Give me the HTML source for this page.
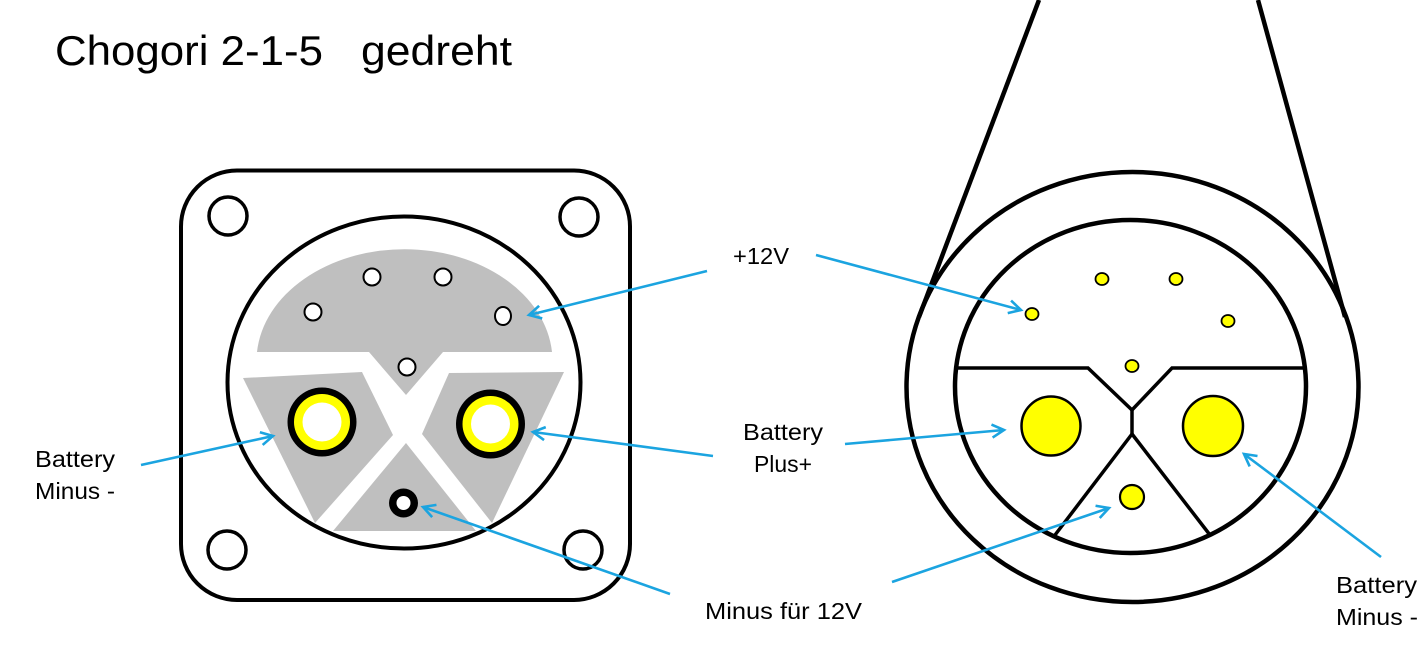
<!DOCTYPE html>
<html><head><meta charset="utf-8"><style>
html,body{margin:0;padding:0;background:#fff;}
svg{display:block;}
text{font-family:"Liberation Sans",Arial,sans-serif;fill:#000;}
</style></head><body>
<svg width="1427" height="646" viewBox="0 0 1427 646" xmlns="http://www.w3.org/2000/svg">
<defs>
<marker id="ah" markerUnits="userSpaceOnUse" markerWidth="20" markerHeight="20" viewBox="0 0 20 20" refX="15" refY="10" orient="auto">
<path d="M3,3.5 L15,10 L3,16.5" fill="none" stroke="#1BA4E0" stroke-width="2.6" stroke-linejoin="miter"/>
</marker>
</defs>
<rect x="0" y="0" width="1427" height="646" fill="#fff"/>

<!-- Title -->
<text x="55" y="65" font-size="42" textLength="268" lengthAdjust="spacingAndGlyphs">Chogori 2-1-5</text>
<text x="361" y="65" font-size="42" textLength="151" lengthAdjust="spacingAndGlyphs">gedreht</text>

<!-- LEFT FIGURE -->
<rect x="181" y="170.5" width="449" height="429.5" rx="56" ry="56" fill="#fff" stroke="#000" stroke-width="4"/>
<circle cx="228" cy="216" r="19" fill="#fff" stroke="#000" stroke-width="3.5"/>
<circle cx="579" cy="217" r="19" fill="#fff" stroke="#000" stroke-width="3.5"/>
<circle cx="227" cy="550" r="19" fill="#fff" stroke="#000" stroke-width="3.5"/>
<circle cx="583" cy="550" r="19" fill="#fff" stroke="#000" stroke-width="3.5"/>
<ellipse cx="404" cy="382.5" rx="176.5" ry="166" fill="#fff" stroke="#000" stroke-width="4"/>

<!-- gray regions -->
<path d="M257,352 A148,112 0 0 1 552,352 L443,352 L406,395 L369,352 Z" fill="#BFBFBF"/>
<polygon points="243,378 362,372 393,435 315,523" fill="#BFBFBF"/>
<polygon points="449,373 564,372 492,523 422,434" fill="#BFBFBF"/>
<polygon points="406,443 476,531 333,531" fill="#BFBFBF"/>

<!-- small holes -->
<circle cx="372" cy="277" r="8.5" fill="#fff" stroke="#000" stroke-width="2"/>
<circle cx="443" cy="277" r="8.5" fill="#fff" stroke="#000" stroke-width="2"/>
<circle cx="313" cy="312" r="8.5" fill="#fff" stroke="#000" stroke-width="2"/>
<ellipse cx="503" cy="316" rx="8" ry="9" fill="#fff" stroke="#000" stroke-width="2"/>
<circle cx="407" cy="367" r="8.5" fill="#fff" stroke="#000" stroke-width="2"/>

<!-- big pins -->
<circle cx="322" cy="422" r="34.5" fill="#000"/>
<circle cx="322" cy="422" r="28" fill="#FFFF00"/>
<circle cx="322" cy="422" r="19.5" fill="#fff"/>
<circle cx="490.5" cy="424" r="34.5" fill="#000"/>
<circle cx="490.5" cy="424" r="28" fill="#FFFF00"/>
<circle cx="490.5" cy="424" r="19.5" fill="#fff"/>
<circle cx="403.5" cy="503" r="14.5" fill="#000"/>
<circle cx="403.5" cy="503" r="7" fill="#fff"/>

<!-- RIGHT FIGURE -->
<line x1="1039" y1="0" x2="919" y2="317" stroke="#000" stroke-width="4.5"/>
<line x1="1258" y1="0" x2="1345" y2="317" stroke="#000" stroke-width="4.5"/>
<ellipse cx="1132.5" cy="387" rx="226" ry="215" fill="none" stroke="#000" stroke-width="4.5"/>
<ellipse cx="1130.5" cy="386.5" rx="175.5" ry="166.5" fill="none" stroke="#000" stroke-width="4.5"/>
<polyline points="956,368 1088,368 1132,410 1172,368 1305,368" fill="none" stroke="#000" stroke-width="3.5"/>
<line x1="1132" y1="409" x2="1132" y2="434" stroke="#000" stroke-width="3.5"/>
<line x1="1132" y1="434" x2="1055" y2="535" stroke="#000" stroke-width="3.5"/>
<line x1="1132" y1="434" x2="1210" y2="535" stroke="#000" stroke-width="3.5"/>

<circle cx="1051" cy="426" r="29.5" fill="#FFFF00" stroke="#000" stroke-width="2.5"/>
<circle cx="1213" cy="426" r="30" fill="#FFFF00" stroke="#000" stroke-width="2.5"/>
<circle cx="1132" cy="497" r="12" fill="#FFFF00" stroke="#000" stroke-width="2.2"/>
<ellipse cx="1032" cy="314" rx="6.5" ry="6" fill="#FFFF00" stroke="#000" stroke-width="1.8"/>
<ellipse cx="1102" cy="279" rx="6.5" ry="6" fill="#FFFF00" stroke="#000" stroke-width="1.8"/>
<ellipse cx="1176" cy="279" rx="6.5" ry="6" fill="#FFFF00" stroke="#000" stroke-width="1.8"/>
<ellipse cx="1228" cy="321" rx="6.5" ry="6" fill="#FFFF00" stroke="#000" stroke-width="1.8"/>
<ellipse cx="1132" cy="366" rx="6.5" ry="6" fill="#FFFF00" stroke="#000" stroke-width="1.8"/>

<!-- ARROWS -->
<g stroke="#1BA4E0" stroke-width="2.6" fill="none" marker-end="url(#ah)">
<line x1="707" y1="271" x2="529" y2="315"/>
<line x1="816" y1="255" x2="1021" y2="310"/>
<line x1="141" y1="465" x2="273" y2="436"/>
<line x1="713" y1="456" x2="533" y2="432"/>
<line x1="845" y1="444" x2="1004" y2="430"/>
<line x1="670" y1="594" x2="423" y2="507"/>
<line x1="892" y1="582" x2="1109" y2="508"/>
<line x1="1381" y1="557" x2="1244" y2="454"/>
</g>

<!-- LABELS -->
<text x="733" y="264" font-size="23" textLength="56" lengthAdjust="spacingAndGlyphs">+12V</text>
<text x="743" y="440" font-size="23" textLength="80" lengthAdjust="spacingAndGlyphs">Battery</text>
<text x="754" y="472" font-size="23" textLength="58" lengthAdjust="spacingAndGlyphs">Plus+</text>
<text x="35" y="467" font-size="23" textLength="80" lengthAdjust="spacingAndGlyphs">Battery</text>
<text x="35" y="499" font-size="23" textLength="80" lengthAdjust="spacingAndGlyphs">Minus -</text>
<text x="705" y="619" font-size="23" textLength="157" lengthAdjust="spacingAndGlyphs">Minus für 12V</text>
<text x="1336" y="593" font-size="23" textLength="81" lengthAdjust="spacingAndGlyphs">Battery</text>
<text x="1336" y="625" font-size="23" textLength="82" lengthAdjust="spacingAndGlyphs">Minus -</text>
</svg>
</body></html>
